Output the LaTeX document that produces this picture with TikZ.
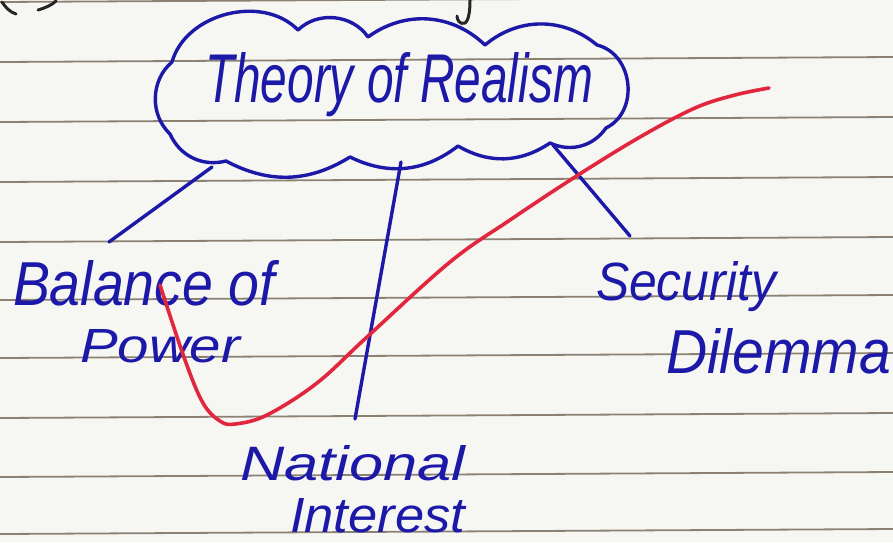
\documentclass[tikz,border=0pt]{standalone}
\usepackage{fontspec}
\setmainfont{Liberation Sans}
\usepackage{graphicx}
\definecolor{inkblue}{RGB}{28,24,168}
\definecolor{redink}{RGB}{226,38,62}
\definecolor{paper}{RGB}{246,246,243}
\definecolor{rule}{RGB}{140,130,116}
\begin{document}
\begin{tikzpicture}[x=1pt,y=-1pt,
  ink/.style={draw=inkblue,line width=3.4pt,line cap=round,line join=round},
  redline/.style={draw=redink,line width=3.6pt,line cap=round,line join=round},
  blackink/.style={draw=black!85,line width=3pt,line cap=round},
  paperline/.style={draw=rule,line width=1.8pt},
  lbl/.style={inner sep=0pt,outer sep=0pt,text=inkblue,anchor=base west}]
\fill[paper] (0,0) rectangle (893,542);
\useasboundingbox (0,0) rectangle (893,542);
% ruled lines
\foreach \yy in {2,62,122,182,242,300,358,418,477,534}
  \draw[paperline] (0,\yy) -- (893,\yy-5);
% fragments of text above
\draw[blackink] (2,2) .. controls (6,8) and (10,12) .. (16,14);
\draw[blackink] (38,10) .. controls (45,8) and (52,5) .. (56,1);
\draw[blackink] (470,0) .. controls (470,10) and (469,20) .. (465,23) .. controls (460,25) and (457,20) .. (457,16);
% cloud
\coordinate (c1) at (172,62);
\coordinate (c2) at (298,30);
\coordinate (c3) at (368,37);
\coordinate (c4) at (485,45);
\coordinate (c5) at (597,45);
\coordinate (c6) at (606,128);
\coordinate (c7) at (550,143);
\coordinate (c8) at (458,146);
\coordinate (c9) at (350,157);
\coordinate (c10) at (226,161);
\coordinate (c11) at (170,134);
\draw[ink] (c1) to[bend left=60] (c2) to[bend left=50] (c3)
  to[bend left=40] (c4) to[bend left=40] (c5)
  to[bend left=70,looseness=1.15] (c6) to[bend left=40] (c7)
  to[bend left=32] (c8) to[bend left=32] (c9) to[bend left=30] (c10)
  to[bend left=40] (c11) to[bend left=48] (c1);
\node[lbl] (tor) at (205,102) {\resizebox{388pt}{50pt}{\itshape Theory of Realism}};
% legs
\coordinate (lt) at (212,167);
\coordinate (lb) at (109,242);
\coordinate (mt) at (401,162);
\coordinate (mb) at (355,419);
\coordinate (rt) at (553,145);
\coordinate (rb) at (630,236);
\draw[ink] (lt) -- (lb);
\draw[ink] (mt) -- (mb);
\draw[ink] (rt) -- (rb);
% labels
\node[lbl] (bop1) at (13,305) {\resizebox{262pt}{45pt}{\itshape Balance of}};
\node[lbl] (bop2) at (80,362) {\resizebox{160pt}{33pt}{\itshape Power}};
\node[lbl] (sd1) at (596,300) {\resizebox{180pt}{39pt}{\itshape Security}};
\node[lbl] (sd2) at (666,373) {\resizebox{225pt}{45pt}{\itshape Dilemma}};
\node[lbl] (ni1) at (240,480) {\resizebox{225pt}{35pt}{\itshape National}};
\node[lbl] (ni2) at (290,532) {\resizebox{175pt}{34pt}{\itshape Interest}};
% red curve
\draw[redline] plot[smooth,tension=0.6] coordinates {
 (160,285) (185,360) (203,403) (220,421) (235,424) (267,415) (317,383)
 (367,337) (450,262) (510,220) (575,177) (640,137) (695,108) (735,95) (769,88)};
\end{tikzpicture}
\end{document}
